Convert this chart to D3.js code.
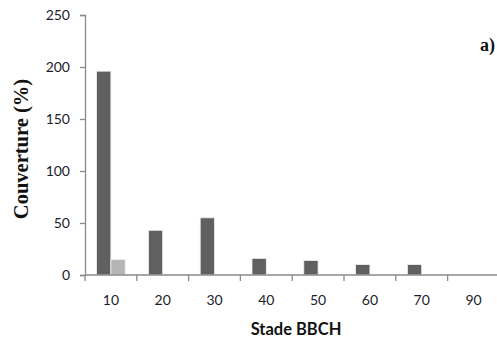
<!DOCTYPE html>
<html>
<head>
<meta charset="utf-8">
<script src="https://cdn.jsdelivr.net/npm/d3@7"></script>
<style>
  body { margin: 0; background: #fff; }
  svg { display: block; }
</style>
</head>
<body>
<div id="viz"></div>
<script>
// stades BBCH et couverture (%)
const stades = ['10', '20', '30', '40', '50', '60', '70', '90'];
const serieFoncee = [196, 43, 55, 16, 14, 10, 10, 0];
const serieClaire = [15, 0, 0, 0, 0, 0, 0, 0];
const yTicks = [0, 50, 100, 150, 200, 250];

const width = 497, height = 341;
const plotLeft = 85, plotTop = 15, plotBottom = 275;

const svg = d3.select('#viz').append('svg')
  .attr('width', width)
  .attr('height', height)
  .attr('role', 'img')
  .attr('aria-label', 'Couverture (%) selon le stade BBCH');

const x = d3.scaleBand().domain(stades).range([plotLeft, plotLeft + 8 * 51.8]).padding(0);
const x1 = d3.scaleBand().domain(['fonce', 'clair']).range([0, x.bandwidth()])
  .paddingInner(0).paddingOuter(0.81);
const y = d3.scaleLinear().domain([0, 250]).range([plotBottom, plotTop]);

const data = stades.map((s, i) => ({ stade: s, fonce: serieFoncee[i], clair: serieClaire[i] }));
const colors = { fonce: '#606060', clair: '#b5b5b5' };

// barres
const g = svg.append('g');
data.forEach(d => {
  ['fonce', 'clair'].forEach(k => {
    if (d[k] <= 0) return;
    g.append('rect')
      .attr('x', x(d.stade) + x1(k))
      .attr('y', y(d[k]))
      .attr('width', x1.bandwidth())
      .attr('height', y(0) - y(d[k]))
      .attr('fill', colors[k])
      .attr('stroke', '#f2f2f2')
      .attr('stroke-width', 0.8);
  });
});

// axe y
const yAxis = svg.append('g')
  .attr('transform', `translate(${plotLeft},0)`)
  .call(d3.axisLeft(y).tickValues(yTicks).tickSize(5).tickPadding(10));
yAxis.select('.domain').attr('stroke', '#8a8a8a').attr('stroke-width', 1.3);
yAxis.selectAll('.tick line').attr('stroke', '#8a8a8a').attr('stroke-width', 1.3);
yAxis.selectAll('.tick text')
  .attr('font-family', 'Lato, sans-serif').attr('font-size', 14).attr('fill', '#1c1c2a');

// axe x : graduations aux limites des classes
svg.append('line')
  .attr('x1', plotLeft).attr('x2', width)
  .attr('y1', y(0)).attr('y2', y(0))
  .attr('stroke', '#8a8a8a').attr('stroke-width', 1.3);
svg.append('g').selectAll('line')
  .data(stades)
  .join('line')
  .attr('x1', d => x(d)).attr('x2', d => x(d))
  .attr('y1', y(0)).attr('y2', y(0) + 6)
  .attr('stroke', '#8a8a8a').attr('stroke-width', 1.3);
svg.append('g').selectAll('text')
  .data(stades)
  .join('text')
  .attr('x', d => x(d) + x.bandwidth() / 2)
  .attr('y', 305)
  .attr('text-anchor', 'middle')
  .attr('font-family', 'Lato, sans-serif')
  .attr('font-size', 14)
  .attr('fill', '#1c1c2a')
  .text(d => d);

// titres
svg.append('text')
  .attr('x', 296).attr('y', 335)
  .attr('text-anchor', 'middle')
  .attr('font-family', 'Lato, sans-serif')
  .attr('font-weight', 'bold')
  .attr('font-size', 16.5)
  .attr('fill', '#111')
  .text('Stade BBCH');

svg.append('text')
  .attr('transform', 'translate(28,149) rotate(-90)')
  .attr('text-anchor', 'middle')
  .attr('font-family', '"Liberation Serif", serif')
  .attr('font-weight', 'bold')
  .attr('font-size', 20.5)
  .attr('fill', '#111')
  .text('Couverture (%)');

svg.append('text')
  .attr('x', 495).attr('y', 51)
  .attr('text-anchor', 'end')
  .attr('font-family', '"Liberation Serif", serif')
  .attr('font-weight', 'bold')
  .attr('font-size', 18)
  .attr('fill', '#111')
  .text('a)');
</script>
</body>
</html>
